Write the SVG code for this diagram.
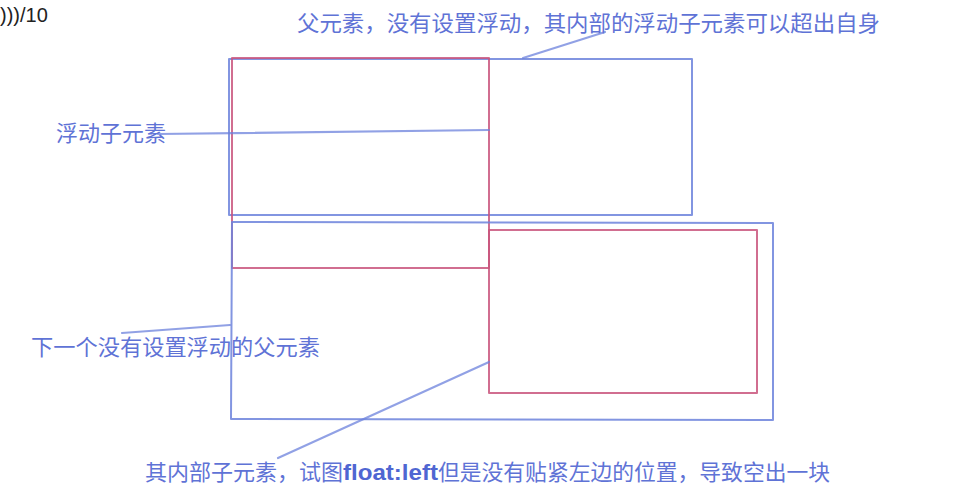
<svg xmlns="http://www.w3.org/2000/svg" width="955" height="503" viewBox="0 0 955 503">
  <style>
    .blue { fill: none; stroke: #6c82dc; stroke-width: 2; stroke-opacity: 0.85; stroke-linejoin: round; }
    .red { fill: none; stroke: #c9557c; stroke-width: 2; stroke-opacity: 0.85; stroke-linejoin: round; }
    .conn { fill: none; stroke: #6c82dc; stroke-width: 2.2; stroke-opacity: 0.75; stroke-linecap: round; }
    .lbl { font-family: "Noto Sans CJK SC", "Liberation Sans", sans-serif; font-size: 22px; fill: #5f73d6; }
    .latin { font-family: "Liberation Sans", Arial, sans-serif; font-weight: bold; fill: #4f66d2; }
  </style>
  <rect width="955" height="503" fill="#ffffff"/>

  <text x="0" y="22" font-family="Liberation Sans, Arial, sans-serif" font-size="20" fill="#222222">)))/10</text>

  <g id="parent1">
    <path class="blue" d="M229,59 L692,59 L692,215 L229,215 Z"/>
  </g>
  <g id="child1">
    <path class="red" d="M232,58 L489,58 L489,268 L232,268 Z"/>
  </g>
  <g id="parent2">
    <path class="blue" d="M232,222 L773,223 L773,420 L231,419 Z"/>
  </g>
  <g id="child2">
    <path class="red" d="M489,230 L757,230 L757,393 L489,393 Z"/>
  </g>

  <g id="connectors">
    <line class="conn" x1="523" y1="58" x2="605" y2="32"/>
    <line class="conn" x1="158" y1="134" x2="489" y2="130"/>
    <line class="conn" x1="122" y1="333" x2="230" y2="325"/>
    <line class="conn" x1="278" y1="458" x2="489" y2="362"/>
  </g>

  <g id="label-parent1">
    <text class="lbl" x="297" y="31" textLength="583" lengthAdjust="spacingAndGlyphs">父元素，没有设置浮动，其内部的浮动子元素可以超出自身</text>
  </g>
  <g id="label-child1">
    <text class="lbl" x="56" y="141" textLength="110" lengthAdjust="spacingAndGlyphs">浮动子元素</text>
  </g>
  <g id="label-parent2">
    <text class="lbl" x="31" y="355" textLength="289" lengthAdjust="spacingAndGlyphs">下一个没有设置浮动的父元素</text>
  </g>
  <g id="label-child2">
    <text class="lbl" x="145" y="480" textLength="198" lengthAdjust="spacingAndGlyphs">其内部子元素，试图</text>
    <text class="lbl latin" x="343" y="480" textLength="95" lengthAdjust="spacingAndGlyphs">float:left</text>
    <text class="lbl" x="438" y="480" textLength="392" lengthAdjust="spacingAndGlyphs">但是没有贴紧左边的位置，导致空出一块</text>
  </g>
</svg>
